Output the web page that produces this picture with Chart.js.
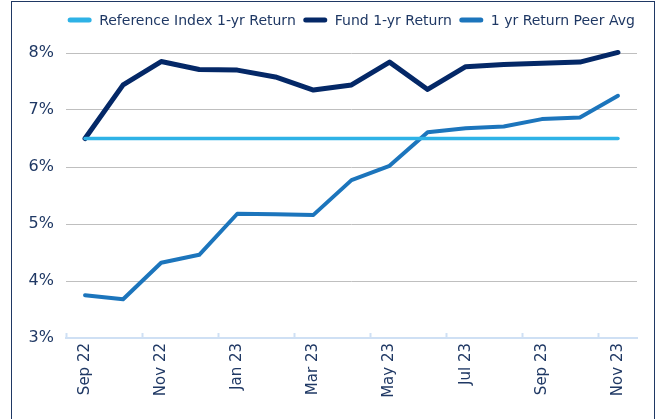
<!DOCTYPE html>
<html>
<head>
<meta charset="utf-8">
<script src="https://cdn.jsdelivr.net/npm/chart.js@4.4.0/dist/chart.umd.min.js"></script>
<style>
  html, body { margin: 0; padding: 0; background: #ffffff; }
  #wrap { position: relative; width: 659px; height: 419px; overflow: hidden; }
  #frame { position: absolute; left: 11px; top: 1px; width: 642px; height: 440px;
           border-left: 1px solid #1F3864; border-top: 1px solid #1F3864; border-right: 1px solid #1F3864; }
  canvas { position: absolute; left: 0; top: 0; }
</style>
</head>
<body>
<div id="wrap">
  <div id="frame"></div>
  <canvas id="c" width="659" height="419"></canvas>
</div>
<script>
const categories = ['Sep 22','Oct 22','Nov 22','Dec 22','Jan 23','Feb 23','Mar 23','Apr 23','May 23','Jun 23','Jul 23','Aug 23','Sep 23','Oct 23','Nov 23'];
const referenceIndex = [6.5,6.5,6.5,6.5,6.5,6.5,6.5,6.5,6.5,6.5,6.5,6.5,6.5,6.5,6.5];
const fundReturn = [6.50,7.44,7.85,7.71,7.70,7.58,7.35,7.44,7.84,7.36,7.76,7.80,7.82,7.84,8.01];
const peerAvg = [3.75,3.68,4.32,4.46,5.18,5.17,5.16,5.77,6.02,6.61,6.68,6.71,6.84,6.87,7.25];
const seriesNames = ['Reference Index 1-yr Return','Fund 1-yr Return','1 yr Return Peer Avg'];
const yTicks = [3,4,5,6,7,8];

const textColor = '#1F3864';
const fontFamily = "'DejaVu Sans', sans-serif";

const legendPlugin = {
  id: 'customLegend',
  afterDraw(chart) {
    const ctx = chart.ctx;
    const ds = chart.data.datasets;
    ctx.save();
    ctx.font = '14px ' + fontFamily;
    const sw = 23, gap = 8, itemGap = 8;
    const widths = ds.map(d => sw + gap + ctx.measureText(d.label).width);
    const total = widths.reduce((a,b)=>a+b,0) + itemGap*(ds.length-1);
    const ca = chart.chartArea;
    let x = (ca.left + ca.right)/2 - total/2;
    const y = 20;
    ds.forEach((d,i) => {
      ctx.strokeStyle = d.borderColor;
      ctx.lineWidth = 5;
      ctx.lineCap = 'round';
      ctx.beginPath();
      ctx.moveTo(x+2, y); ctx.lineTo(x+sw-2, y);
      ctx.stroke();
      ctx.fillStyle = textColor;
      ctx.textBaseline = 'middle';
      ctx.textAlign = 'left';
      ctx.fillText(d.label, x+sw+gap, y+1);
      x += widths[i] + itemGap;
    });
    ctx.restore();
  }
};

new Chart(document.getElementById('c'), {
  type: 'line',
  data: {
    labels: categories,
    datasets: [
      { label: seriesNames[0], data: referenceIndex, borderColor: '#2EB2E6', borderWidth: 3.5, pointRadius: 0, tension: 0, clip: false, borderCapStyle: 'round' },
      { label: seriesNames[1], data: fundReturn, borderColor: '#042867', borderWidth: 5, pointRadius: 0, tension: 0, clip: false, borderCapStyle: 'round', borderJoinStyle: 'round' },
      { label: seriesNames[2], data: peerAvg, borderColor: '#1C75BC', borderWidth: 4, pointRadius: 0, tension: 0, clip: false, borderCapStyle: 'round', borderJoinStyle: 'round' }
    ]
  },
  options: {
    responsive: false,
    animation: false,
    layout: { padding: { top: 53, right: 22, left: 0, bottom: 0 } },
    plugins: { legend: { display: false }, tooltip: { enabled: false } },
    scales: {
      x: {
        offset: true,
        grid: {
          offset: true,
          drawOnChartArea: false,
          drawTicks: true,
          tickLength: -5,
          tickWidth: 2,
          tickColor: (c) => (c.index % 2 === 0 ? '#CFE0F4' : 'rgba(0,0,0,0)')
        },
        border: { display: true, color: '#CFE0F4', width: 2 },
        ticks: {
          autoSkip: false,
          maxRotation: 90,
          minRotation: 90,
          padding: 10,
          color: textColor,
          font: { family: fontFamily, size: 15 },
          callback: function(v, i) { return i % 2 === 0 ? this.getLabelForValue(v) : ''; }
        },
        afterFit: (s) => { s.height = 419 - 338; }
      },
      y: {
        min: 3, max: 8,
        afterBuildTicks: (s) => { s.ticks = yTicks.map(v => ({ value: v })); },
        grid: {
          drawTicks: false,
          color: (c) => (c.tick && c.tick.value === 3 ? 'rgba(0,0,0,0)' : '#BFBFBF'),
          lineWidth: 1
        },
        border: { display: false },
        ticks: {
          padding: 12,
          color: textColor,
          font: { family: fontFamily, size: 16 },
          callback: (v) => v + '%'
        },
        afterFit: (s) => { s.width = 66; }
      }
    }
  },
  plugins: [legendPlugin]
});
</script>
</body>
</html>
